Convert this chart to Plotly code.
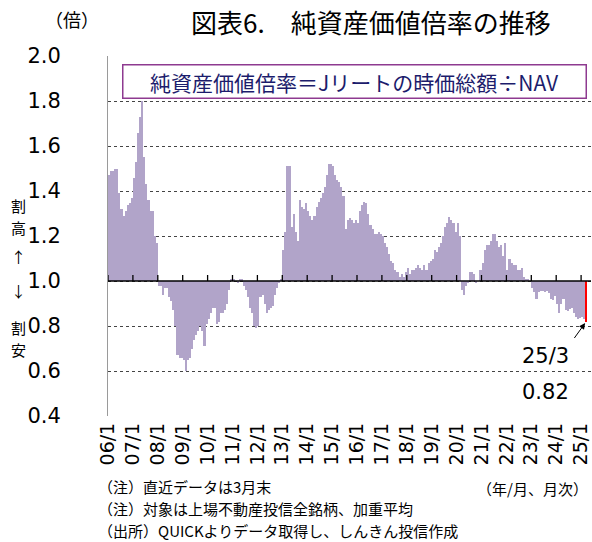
import plotly.graph_objects as go

# ---------------- data (monthly, Jan-2006 .. Mar-2025) ----------------
start_year = 2006
pbr_2006 = [1.47, 1.49, 1.49, 1.50, 1.50, 1.39, 1.32, 1.29, 1.31, 1.34, 1.345, 1.37]
pbr_2007 = [1.46, 1.53, 1.66, 1.73, 1.80, 1.55, 1.43, 1.36, 1.31, 1.31, 1.20, 1.17]
pbr_2008 = [0.98, 0.98, 0.94, 0.97, 0.97, 0.93, 0.91, 0.87, 0.80, 0.67, 0.66, 0.66]
pbr_2009 = [0.65, 0.60, 0.65, 0.66, 0.70, 0.74, 0.76, 0.78, 0.80, 0.78, 0.71, 0.81]
pbr_2010 = [0.83, 0.86, 0.88, 0.88, 0.81, 0.82, 0.86, 0.86, 0.87, 0.90, 0.96, 1.01]
pbr_2011 = [1.01, 1.00, 0.99, 1.01, 1.01, 0.98, 0.96, 0.93, 0.88, 0.86, 0.80, 0.79]
pbr_2012 = [0.80, 0.93, 0.94, 0.90, 0.86, 0.87, 0.88, 0.89, 0.94, 0.97, 0.99, 1.01]
pbr_2013 = [1.14, 1.22, 1.51, 1.51, 1.24, 1.30, 1.22, 1.18, 1.36, 1.33, 1.32, 1.345]
pbr_2014 = [1.31, 1.29, 1.27, 1.29, 1.33, 1.35, 1.37, 1.39, 1.42, 1.47, 1.52, 1.52]
pbr_2015 = [1.51, 1.47, 1.45, 1.44, 1.42, 1.38, 1.23, 1.27, 1.28, 1.27, 1.26, 1.27]
pbr_2016 = [1.26, 1.31, 1.34, 1.35, 1.345, 1.30, 1.25, 1.23, 1.21, 1.21, 1.22, 1.21]
pbr_2017 = [1.20, 1.17, 1.15, 1.12, 1.09, 1.08, 1.05, 1.04, 1.02, 1.03, 1.02, 1.04]
pbr_2018 = [1.06, 1.03, 1.05, 1.05, 1.06, 1.07, 1.06, 1.05, 1.07, 1.05, 1.08, 1.09]
pbr_2019 = [1.10, 1.14, 1.13, 1.15, 1.17, 1.20, 1.24, 1.26, 1.285, 1.27, 1.26, 1.22]
pbr_2020 = [1.26, 1.20, 0.96, 0.94, 0.98, 0.99, 1.04, 1.04, 1.03, 0.99, 1.00, 1.05]
pbr_2021 = [1.08, 1.14, 1.16, 1.16, 1.18, 1.21, 1.21, 1.18, 1.15, 1.16, 1.11, 1.17]
pbr_2022 = [1.05, 1.10, 1.08, 1.07, 1.07, 1.05, 1.05, 1.06, 1.02, 1.01, 1.01, 1.00]
pbr_2023 = [0.97, 0.95, 0.92, 0.95, 0.955, 0.955, 0.95, 0.955, 0.945, 0.92, 0.915, 0.935]
pbr_2024 = [0.90, 0.86, 0.90, 0.92, 0.87, 0.865, 0.875, 0.88, 0.86, 0.84, 0.83, 0.835]
pbr_2025 = [0.84, 0.83, 0.82]

year_tick_labels = ["06/1", "07/1", "08/1", "09/1", "10/1", "11/1", "12/1", "13/1",
                    "14/1", "15/1", "16/1", "17/1", "18/1", "19/1", "20/1", "21/1",
                    "22/1", "23/1", "24/1", "25/1"]
y_ticks = [0.4, 0.6, 0.8, 1.0, 1.2, 1.4, 1.6, 1.8, 2.0]
base_level = 1.0

footnotes = ["（注）直近データは3月末",
             "（注）対象は上場不動産投信全銘柄、加重平均",
             "（出所）QUICKよりデータ取得し、しんきん投信作成"]
side_marks = ["割", "高", "↑", "↓", "割", "安"]

values = (pbr_2006 + pbr_2007 + pbr_2008 + pbr_2009 + pbr_2010 + pbr_2011 + pbr_2012
          + pbr_2013 + pbr_2014 + pbr_2015 + pbr_2016 + pbr_2017 + pbr_2018 + pbr_2019
          + pbr_2020 + pbr_2021 + pbr_2022 + pbr_2023 + pbr_2024 + pbr_2025)
n = len(values)
idx = list(range(n))

# ---------------- styling ----------------
W, H = 592, 542
L, R, T, B = 108, 1, 56, 126
PW, PH = W - L - R, H - T - B
px_per_month = 2.075
x_lo = -0.5
x_hi = x_lo + PW / px_per_month

PURPLE = "#b1a4c9"
RED = "#ff0000"
NUM_FONT = "DejaVu Sans, Noto Sans CJK JP"
JP_FONT = "Noto Sans CJK JP, DejaVu Sans"


def pxx(x):
    return (x - L) / PW


def pxy(y):
    return (H - B - y) / PH


def label(text, x, y, size, family=JP_FONT, anchor="center", color="black", align="left"):
    return dict(text=text, xref="paper", yref="paper", x=pxx(x), y=pxy(y),
                xanchor=anchor, yanchor="middle", showarrow=False, align=align,
                font=dict(family=family, size=size, color=color))


colors = [PURPLE] * (n - 1) + [RED]

fig = go.Figure()
fig.add_bar(
    x=idx,
    y=[v - base_level for v in values],
    base=base_level,
    width=1.0,
    marker=dict(color=colors, line=dict(width=0)),
    hoverinfo="skip",
)

tick_pos = [12 * k - 0.5 for k in range(len(year_tick_labels))]

shapes = [
    dict(type="line", xref="paper", yref="y", x0=0, x1=1, y0=base_level, y1=base_level,
         line=dict(color="black", width=1.5), layer="above"),
]
for tp in tick_pos:
    shapes.append(dict(type="line", xref="x", yref="y", ysizemode="pixel", yanchor=base_level,
                       x0=tp, x1=tp, y0=0, y1=6, line=dict(color="black", width=1.3),
                       layer="above"))

last_year = start_year + (n - 1) // 12
last_month = (n - 1) % 12 + 1
last_label = f"{last_year % 100:02d}/{last_month}"

annotations = [
    label("図表6.　純資産価値倍率の推移", 371, 22, 26),
    label("（倍）", 72, 19, 18),
    dict(text="純資産価値倍率＝Jリートの時価総額÷NAV", xref="paper", yref="paper",
         x=pxx(354), y=pxy(81), xanchor="center", yanchor="middle", showarrow=False,
         width=458, height=28, bgcolor="white", bordercolor="#8e3a90", borderwidth=1.5,
         borderpad=2, font=dict(family=JP_FONT, size=21, color="#1c1c6c")),
    # arrow to the latest bar
    dict(text="", x=idx[-1], y=values[-1], xref="x", yref="y", showarrow=True,
         ax=-13, ay=18, arrowhead=2, arrowsize=1.2, arrowwidth=1, arrowcolor="black",
         standoff=2),
    label(last_label, 545, 356, 21, family=NUM_FONT),
    label(f"{values[-1]:.2f}", 545, 392, 21, family=NUM_FONT),
    label("（年/月、月次）", 590, 488, 15, anchor="right"),
]
for ch, yy in zip(side_marks, [205, 227, 256, 290, 327, 349]):
    annotations.append(label(ch, 18, yy, 15))
for txt, yy in zip(footnotes, [486, 508, 530]):
    annotations.append(label(txt, 96, yy, 15, anchor="left"))

fig.update_layout(
    width=W, height=H,
    margin=dict(l=L, r=R, t=T, b=B, pad=0),
    paper_bgcolor="white", plot_bgcolor="white",
    showlegend=False,
    bargap=0,
    shapes=shapes,
    annotations=annotations,
    xaxis=dict(
        range=[x_lo, x_hi], tickmode="array", tickvals=tick_pos, ticktext=year_tick_labels,
        tickangle=-90, showgrid=False, zeroline=False, showline=False, ticks="",
        tickfont=dict(family=NUM_FONT, size=19, color="black"), ticklabelstandoff=2,
    ),
    yaxis=dict(
        range=[0.4, 2.0], tickmode="array", tickvals=y_ticks,
        ticktext=[f"{t:.1f}" for t in y_ticks],
        showgrid=True, gridcolor="#444444", griddash="dot", gridwidth=1,
        zeroline=False, showline=True, linecolor="#9a9a9a", linewidth=1,
        ticks="", tickfont=dict(family=NUM_FONT, size=21, color="black"),
        ticklabelstandoff=42,
    ),
)

fig.write_html(
    "out.html",
    config={"displayModeBar": False},
    post_script="document.body.style.margin='0';document.documentElement.style.overflow='hidden';",
)
